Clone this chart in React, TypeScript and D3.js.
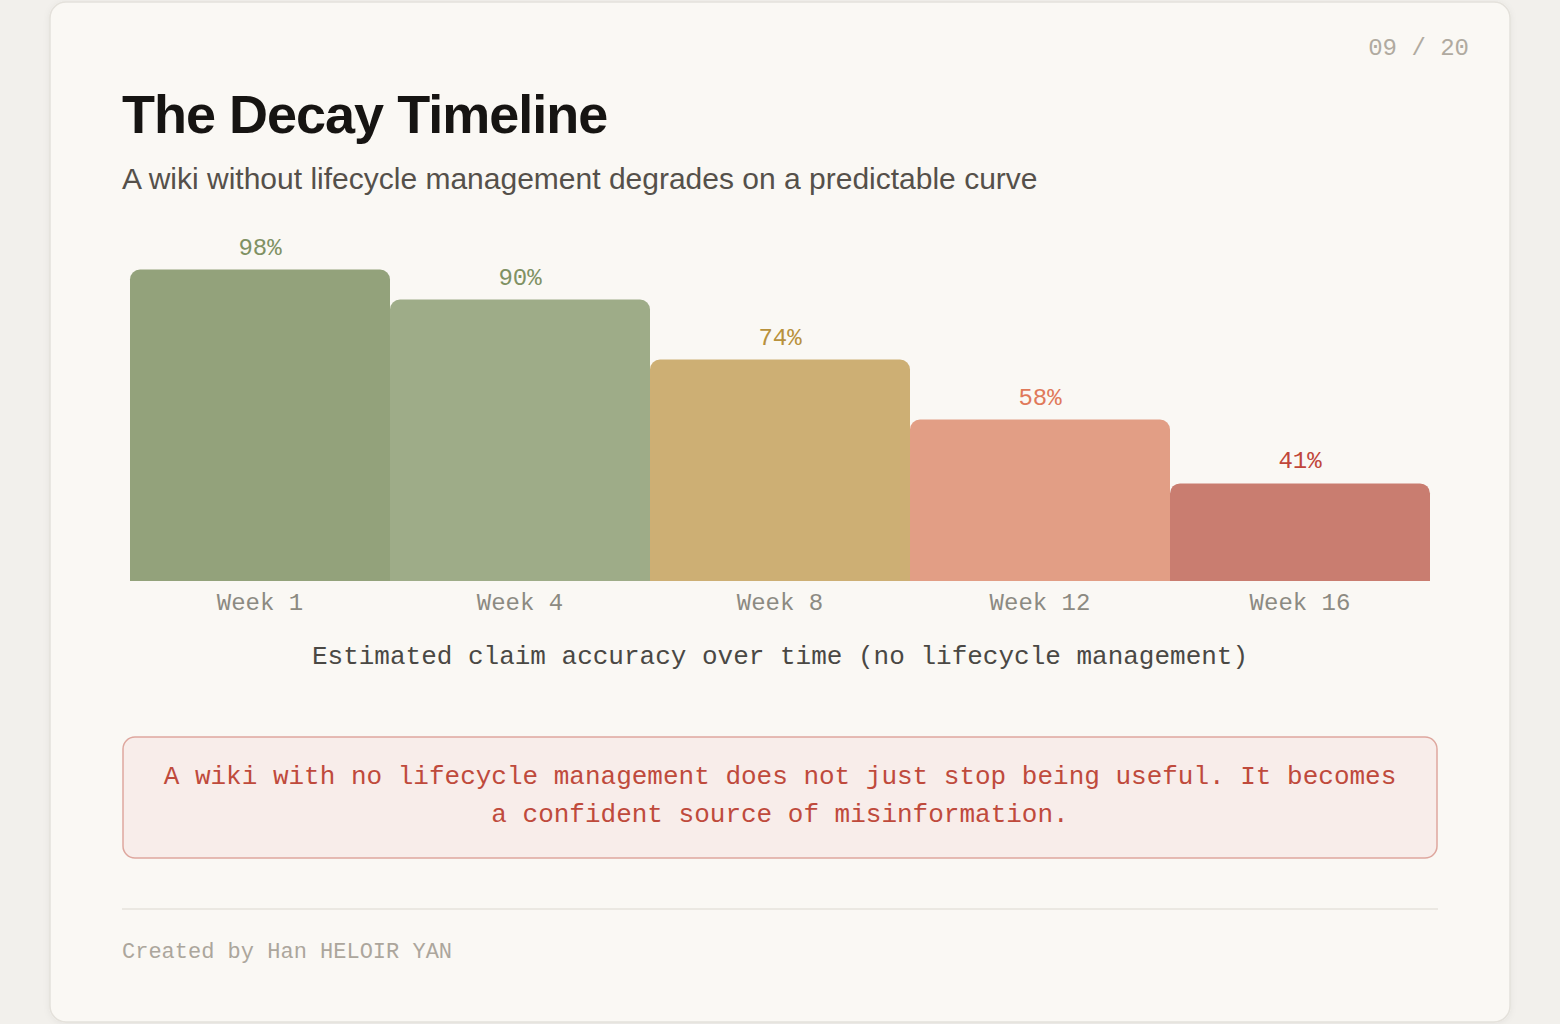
import React from "react";
import * as d3 from "d3";

const weeks = ["Week 1", "Week 4", "Week 8", "Week 12", "Week 16"];
const accuracy = [98, 90, 74, 58, 41];
const barColors = ["#93a27b", "#9eac88", "#cdaf74", "#e29e85", "#c97d70"];
const labelColors = ["#7f9163", "#7f9163", "#b8913c", "#e0795a", "#c0463a"];

const W = 1560;
const H = 1024;
const mono = "'Liberation Mono', 'DejaVu Sans Mono', monospace";
const sans = "'Liberation Sans', Arial, sans-serif";

function topRoundedRect(x: number, y: number, w: number, h: number, r: number) {
  const p = d3.path();
  p.moveTo(x, y + h);
  p.lineTo(x, y + r);
  p.arcTo(x, y, x + r, y, r);
  p.lineTo(x + w - r, y);
  p.arcTo(x + w, y, x + w, y + r, r);
  p.lineTo(x + w, y + h);
  p.closePath();
  return p.toString();
}

export default function App() {
  const x = d3.scaleBand<string>().domain(weeks).range([130, 1430]).padding(0);
  const y = d3.scaleLinear().domain([15, 100]).range([581, 262]);
  const base = y(15);

  return (
    <svg
      width={W}
      height={H}
      viewBox={`0 0 ${W} ${H}`}
      style={{ position: "absolute", left: 0, top: 0, display: "block" }}
    >
      <defs>
        <filter id="shadow" x="-5%" y="-5%" width="110%" height="110%">
          <feDropShadow dx="0" dy="1" stdDeviation="3" floodColor="#000" floodOpacity="0.06" />
        </filter>
      </defs>
      <rect x={0} y={0} width={W} height={H} fill="#f2f0ec" />
      <rect
        x={50}
        y={2}
        width={1460}
        height={1020}
        rx={16}
        fill="#faf8f4"
        stroke="#e4e1db"
        strokeWidth={1.5}
        filter="url(#shadow)"
      />

      <text x={1469} y={55} textAnchor="end" fontFamily={mono} fontSize={24} fill="#b0aaa0">
        09 / 20
      </text>

      <text x={122} y={133} fontFamily={sans} fontWeight={700} fontSize={54} letterSpacing={-1} fill="#161412">
        The Decay Timeline
      </text>
      <text x={122} y={189} fontFamily={sans} fontSize={30} fill="#55504a">
        A wiki without lifecycle management degrades on a predictable curve
      </text>

      <g>
        {weeks.map((wk, i) => {
          const bx = x(wk) as number;
          const by = y(accuracy[i]);
          return (
            <g key={wk}>
              <path d={topRoundedRect(bx, by, x.bandwidth(), base - by, 10)} fill={barColors[i]} />
              <text
                x={bx + x.bandwidth() / 2}
                y={by - 15}
                textAnchor="middle"
                fontFamily={mono}
                fontSize={24}
                fill={labelColors[i]}
              >
                {accuracy[i]}%
              </text>
              <text
                x={bx + x.bandwidth() / 2}
                y={610}
                textAnchor="middle"
                fontFamily={mono}
                fontSize={24}
                fill="#8c8a82"
              >
                {wk}
              </text>
            </g>
          );
        })}
      </g>

      <text x={780} y={664} textAnchor="middle" fontFamily={mono} fontSize={26} fill="#4a4844">
        Estimated claim accuracy over time (no lifecycle management)
      </text>

      <rect x={123} y={737} width={1314} height={121} rx={12} fill="#f8edea" stroke="#dea79e" strokeWidth={1.5} />
      <text textAnchor="middle" fontFamily={mono} fontSize={26} fill="#bf4a3c">
        <tspan x={780} y={784}>
          A wiki with no lifecycle management does not just stop being useful. It becomes
        </tspan>
        <tspan x={780} y={822}>
          a confident source of misinformation.
        </tspan>
      </text>

      <line x1={122} x2={1438} y1={909} y2={909} stroke="#e6e3dd" strokeWidth={1.5} />
      <text x={122} y={958} fontFamily={mono} fontSize={22} fill="#aca69c">
        Created by Han HELOIR YAN
      </text>
    </svg>
  );
}
